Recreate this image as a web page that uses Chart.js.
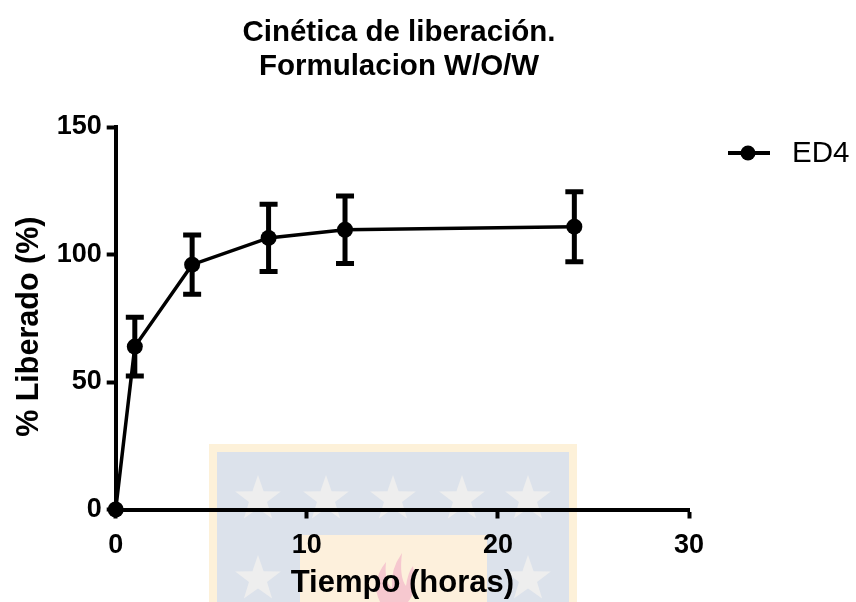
<!DOCTYPE html>
<html><head><meta charset="utf-8">
<script src="https://cdn.jsdelivr.net/npm/chart.js@4.4.1/dist/chart.umd.min.js"></script>
<style>html,body{margin:0;padding:0;background:#fff}#wrap{width:856px;height:602px}</style>
</head><body><div id="wrap"><canvas id="c" width="856" height="602"></canvas></div>
<script>
const timeHours = [0, 1, 4, 8, 12, 24];
const releasedMean = [0, 63.9, 96, 106.5, 109.7, 110.9];
const releasedSD = [0, 11.5, 11.6, 13.2, 13.2, 13.7];
const xTicks = [0, 10, 20, 30];
const yTicks = [0, 50, 100, 150];
const seriesName = 'ED4';
const titleLines = ['Cinética de liberación.', 'Formulacion W/O/W'];
const xTitle = 'Tiempo (horas)';
const yTitle = '% Liberado (%)  ';

const FONT = '"Liberation Sans", Arial, Helvetica, sans-serif';

function star(ctx, cx, cy, R, r) {
  ctx.beginPath();
  for (let i = 0; i < 10; i++) {
    const a = -Math.PI / 2 + i * Math.PI / 5;
    const rad = i % 2 === 0 ? R : r;
    const px = cx + rad * Math.cos(a), py = cy + rad * Math.sin(a);
    if (i === 0) ctx.moveTo(px, py); else ctx.lineTo(px, py);
  }
  ctx.closePath();
  ctx.fill();
}

const watermark = {
  id: 'watermark',
  beforeDraw(chart) {
    const ctx = chart.ctx;
    ctx.save();
    ctx.fillStyle = '#fdf1d9';
    ctx.fillRect(209, 444, 368, 158);
    ctx.fillStyle = '#dce2eb';
    ctx.fillRect(217, 452, 352, 150);
    ctx.fillStyle = '#fdf0dc';
    ctx.fillRect(300, 535, 187, 67);
    ctx.fillStyle = '#eeeeee';
    [258, 326, 393, 462, 528].forEach(x => star(ctx, x, 499, 24, 9.5));
    star(ctx, 258, 579, 24, 9.5);
    star(ctx, 528, 579, 24, 9.5);
    ctx.fillStyle = '#f6c8cf';
    ctx.beginPath();
    ctx.moveTo(380, 602);
    ctx.quadraticCurveTo(370, 582, 386, 562);
    ctx.quadraticCurveTo(384, 582, 392, 588);
    ctx.quadraticCurveTo(390, 570, 402, 553);
    ctx.quadraticCurveTo(399, 577, 406, 586);
    ctx.quadraticCurveTo(408, 572, 413, 566);
    ctx.quadraticCurveTo(418, 590, 408, 602);
    ctx.closePath();
    ctx.fill();
    ctx.restore();
  }
};

const titlePlugin = {
  id: 'twoLineTitle',
  afterDraw(chart) {
    const ctx = chart.ctx;
    ctx.save();
    ctx.fillStyle = '#000';
    ctx.font = 'bold 29.5px ' + FONT;
    ctx.textAlign = 'center';
    ctx.textBaseline = 'middle';
    ctx.fillText(titleLines[0], 399, 33);
    ctx.fillText(titleLines[1], 399, 67);
    ctx.restore();
  }
};

const errorBars = {
  id: 'errorBars',
  afterDatasetsDraw(chart) {
    const ctx = chart.ctx;
    const xs = chart.scales.x, ys = chart.scales.y;
    ctx.save();
    ctx.strokeStyle = '#000';
    ctx.lineWidth = 5;
    ctx.lineCap = 'butt';
    timeHours.forEach((t, i) => {
      const sd = releasedSD[i];
      if (!sd) return;
      const px = xs.getPixelForValue(t);
      const top = ys.getPixelForValue(releasedMean[i] + sd);
      const bot = ys.getPixelForValue(releasedMean[i] - sd);
      ctx.beginPath();
      ctx.moveTo(px, top); ctx.lineTo(px, bot);
      ctx.moveTo(px - 9, top); ctx.lineTo(px + 9, top);
      ctx.moveTo(px - 9, bot); ctx.lineTo(px + 9, bot);
      ctx.stroke();
    });
    ctx.restore();
  }
};

const legendPlugin = {
  id: 'customLegend',
  afterDraw(chart) {
    const ctx = chart.ctx;
    const ds = chart.data.datasets[0];
    ctx.save();
    ctx.strokeStyle = ds.borderColor;
    ctx.lineWidth = 4;
    ctx.beginPath();
    ctx.moveTo(728, 153); ctx.lineTo(770, 153);
    ctx.stroke();
    ctx.fillStyle = ds.pointBackgroundColor;
    ctx.beginPath();
    ctx.arc(748, 153, 7.5, 0, Math.PI * 2);
    ctx.fill();
    ctx.font = '29.5px ' + FONT;
    ctx.textAlign = 'left';
    ctx.textBaseline = 'middle';
    ctx.fillText(ds.label, 792, 154);
    ctx.restore();
  }
};

new Chart(document.getElementById('c'), {
  type: 'line',
  data: {
    datasets: [{
      label: seriesName,
      data: timeHours.map((t, i) => ({ x: t, y: releasedMean[i] })),
      borderColor: '#000',
      backgroundColor: '#000',
      pointBackgroundColor: '#000',
      pointBorderColor: '#000',
      borderWidth: 3.5,
      pointRadius: 8,
      pointBorderWidth: 0,
      tension: 0,
      clip: false
    }]
  },
  options: {
    responsive: false,
    devicePixelRatio: 1,
    animation: false,
    events: [],
    layout: { padding: { left: 0, top: 127, right: 167, bottom: 0 } },
    plugins: { legend: { display: false }, title: { display: false }, tooltip: { enabled: false } },
    scales: {
      x: {
        type: 'linear', min: 0, max: 30,
        afterBuildTicks(s) { s.ticks = xTicks.map(v => ({ value: v })); },
        afterFit(s) { s.height = 92.5; },
        grid: { drawOnChartArea: false, drawTicks: true, tickLength: 9, tickWidth: 4, tickColor: '#000' },
        border: { display: true, width: 4, color: '#000' },
        ticks: { color: '#000', font: { family: FONT, size: 27, weight: 'bold' }, padding: 11, maxRotation: 0 },
        title: { display: true, text: xTitle, color: '#000', font: { family: FONT, size: 31, weight: 'bold' }, padding: { top: 0, bottom: 0 } }
      },
      y: {
        type: 'linear', min: 0, max: 150,
        afterBuildTicks(s) { s.ticks = yTicks.map(v => ({ value: v })); },
        afterFit(s) { s.width = 115.7; },
        grid: { drawOnChartArea: false, drawTicks: true, tickLength: 9, tickWidth: 4, tickColor: '#000' },
        border: { display: true, width: 4, color: '#000' },
        ticks: { color: '#000', font: { family: FONT, size: 27, weight: 'bold' }, padding: 5 },
        title: { display: true, text: yTitle, color: '#000', font: { family: FONT, size: 30.5, weight: 'bold' }, padding: { top: 11, bottom: 0 } }
      }
    }
  },
  plugins: [watermark, errorBars, titlePlugin, legendPlugin]
});
</script></body></html>
